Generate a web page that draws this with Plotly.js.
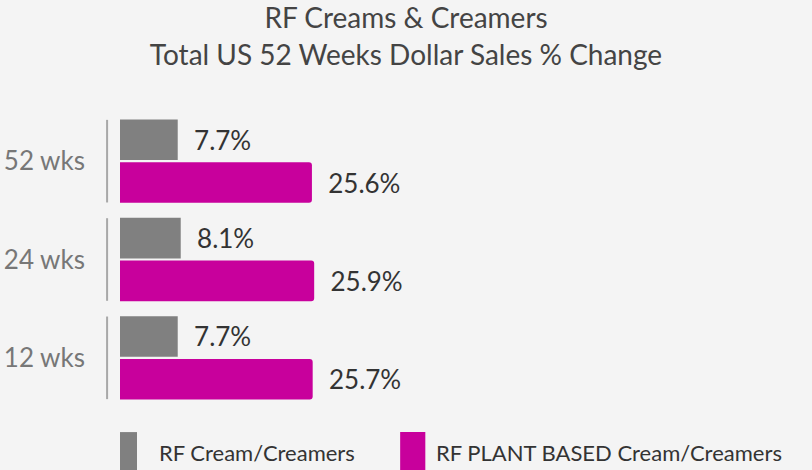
<!DOCTYPE html>
<html>
<head>
<meta charset="utf-8">
<script src="https://cdn.plot.ly/plotly-3.0.1.min.js"></script>
<style>
  html, body { margin: 0; padding: 0; background: #f4f4f4; }
  #plot { width: 812px; height: 470px; }
</style>
</head>
<body>
<div id="plot"></div>
<script>
// periods, top to bottom
let periods = ["52 wks", "24 wks", "12 wks"];

// % change in dollar sales
let creamValues = [7.7, 8.1, 7.7];
let plantValues = [25.6, 25.9, 25.7];

let seriesNames = ["RF Cream/Creamers", "RF PLANT BASED Cream/Creamers"];
let seriesColors = ["#808080", "#c8009c"];

// nbsp padding so the labels sit a little off the bar ends
function pct(v) { return "\u00a0\u00a0" + v.toFixed(1) + "%"; }

let creamTrace = {
    y: periods,
    x: creamValues,
    name: seriesNames[0],
    type: "bar",
    orientation: "h",
    marker: { color: seriesColors[0] },
    text: creamValues.map(pct),
    textposition: "outside",
    cliponaxis: false,
    textfont: { size: 26, color: "#333333" },
    hoverinfo: "none",
    showlegend: false
};

let plantTrace = {
    y: periods,
    x: plantValues,
    name: seriesNames[1],
    type: "bar",
    orientation: "h",
    marker: { color: seriesColors[1], cornerradius: 3 },
    text: plantValues.map(pct),
    textposition: "outside",
    cliponaxis: false,
    textfont: { size: 26, color: "#333333" },
    hoverinfo: "none",
    showlegend: false
};

// short grey separators left of each group
let shapes = periods.map(function (p, i) {
    return {
        type: "line", xref: "paper", yref: "y",
        x0: -0.019, x1: -0.019, y0: i - 0.42, y1: i + 0.42,
        line: { color: "#a8a8a8", width: 2 }
    };
});

// legend drawn by hand: tall swatches like the original
let legendX = [0, 0.412];
let swatchW = [0.025, 0.037];
let labelGap = [0.029, 0.013];
let annotations = [];
seriesNames.forEach(function (name, i) {
    shapes.push({
        type: "rect", xref: "paper", yref: "paper",
        x0: legendX[i], x1: legendX[i] + swatchW[i],
        y0: -0.23, y1: -0.085,
        fillcolor: seriesColors[i],
        line: { width: 0 }
    });
    annotations.push({
        xref: "paper", yref: "paper",
        x: legendX[i] + swatchW[i] + labelGap[i], xanchor: "left",
        y: -0.155, yanchor: "middle",
        text: name, showarrow: false,
        font: { size: 22, color: "#333333" }
    });
});

let layout = {
    width: 812,
    height: 470,
    font: { family: "Lato, 'Open Sans', sans-serif", color: "#444444" },
    title: {
        text: "RF Creams & Creamers<br>Total US 52 Weeks Dollar Sales % Change",
        font: { size: 28, color: "#444444" },
        x: 0.5, xanchor: "center",
        yref: "container",
        y: 0.94, yanchor: "top"
    },
    paper_bgcolor: "#f4f4f4",
    plot_bgcolor: "#f4f4f4",
    barmode: "group",
    bargap: 0.13,
    bargroupgap: 0.05,
    margin: { l: 120, r: 12, t: 112, b: 63 },
    xaxis: {
        range: [0, 90.7],
        visible: false,
        fixedrange: true
    },
    yaxis: {
        autorange: "reversed",
        showline: false,
        showgrid: false,
        zeroline: false,
        ticks: "",
        ticklabelstandoff: 34,
        tickfont: { size: 26, color: "#777777" }
    },
    shapes: shapes,
    annotations: annotations,
    showlegend: false
};

Plotly.newPlot("plot", [creamTrace, plantTrace], layout, { displayModeBar: false });
</script>
</body>
</html>
